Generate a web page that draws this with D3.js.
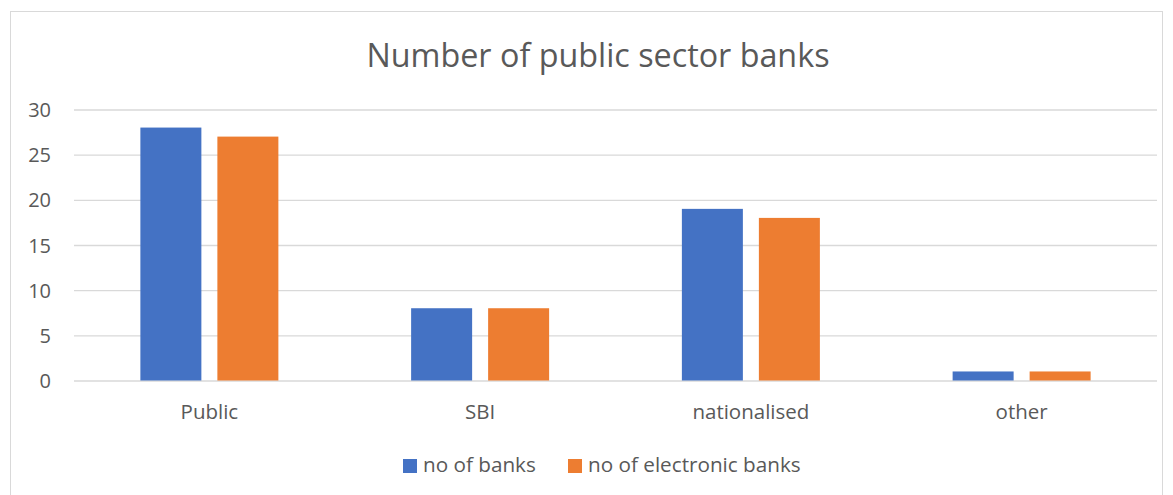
<!DOCTYPE html>
<html><head><meta charset="utf-8">
<script src="https://cdn.jsdelivr.net/npm/d3@7/dist/d3.min.js"></script>
<style>body{margin:0;background:#fff;}svg{display:block;font-family:"Open Sans","Noto Sans",sans-serif;}</style>
</head><body>
<svg id="c" width="1173" height="495"></svg>
<script>
const categories = ["Public", "SBI", "nationalised", "other"];
const seriesNames = ["no of banks", "no of electronic banks"];
const noOfBanks = [28, 8, 19, 1];
const noOfElectronicBanks = [27, 8, 18, 1];
const yTicks = [0, 5, 10, 15, 20, 25, 30];
const colors = ["#4472C4", "#ED7D31"];
const title = "Number of public sector banks";

const svg = d3.select("#c");
const textColor = "#595959";

svg.append("rect").attr("x", 10.5).attr("y", 11.5).attr("width", 1152).attr("height", 500)
  .attr("fill", "#fff").attr("stroke", "#d9d9d9").attr("stroke-width", 1);

svg.append("text").attr("x", 598).attr("y", 67).attr("text-anchor", "middle")
  .attr("font-size", 32.3).attr("fill", textColor).text(title);

const x0 = d3.scaleBand().domain(categories).range([74, 1157]).paddingInner(0).paddingOuter(0);
const groupW = 61 * 2 + 16;
const x1 = d3.scaleBand().domain(seriesNames)
  .range([(x0.bandwidth() - groupW) / 2, (x0.bandwidth() + groupW) / 2])
  .paddingInner(16 / 77).paddingOuter(0);
const y = d3.scaleLinear().domain([0, 30]).range([380.5, 109.5]);

const yAxis = d3.axisLeft(y).tickValues(yTicks).tickSize(-(1157 - 74)).tickFormat(d3.format("d"));
const gy = svg.append("g").attr("transform", "translate(74,0)").call(yAxis);
gy.select(".domain").remove();
gy.selectAll(".tick line").attr("stroke", "#d9d9d9").attr("stroke-width", 1.3);
gy.selectAll(".tick text").attr("x", -23).attr("fill", textColor).attr("font-size", 20)
  .attr("font-family", "'Open Sans',sans-serif").attr("dy", "0.35em");

const xAxis = d3.axisBottom(x0).tickSize(0);
const gx = svg.append("g").attr("transform", "translate(0,380.5)").call(xAxis);
gx.select(".domain").remove();
gx.selectAll(".tick text").attr("fill", textColor).attr("font-size", 20.5)
  .attr("font-family", "'Open Sans',sans-serif").attr("dy", 0).attr("y", 38.5);

const data = categories.map((c, i) => ({cat: c, vals: [noOfBanks[i], noOfElectronicBanks[i]]}));
const groups = svg.append("g").selectAll("g").data(data).join("g")
  .attr("transform", d => `translate(${x0(d.cat)},0)`);
groups.selectAll("rect").data(d => d.vals.map((v, j) => ({name: seriesNames[j], v, j}))).join("rect")
  .attr("x", d => x1(d.name)).attr("width", x1.bandwidth())
  .attr("y", d => y(d.v)).attr("height", d => y(0) - y(d.v))
  .attr("fill", d => colors[d.j]);

// legend
const legendItems = [{x: 403, name: seriesNames[0], c: colors[0]}, {x: 568, name: seriesNames[1], c: colors[1]}];
const lg = svg.append("g");
legendItems.forEach(it => {
  lg.append("rect").attr("x", it.x).attr("y", 459).attr("width", 14).attr("height", 14).attr("fill", it.c);
  lg.append("text").attr("x", it.x + 20).attr("y", 472).attr("font-size", 20.7).attr("fill", textColor).text(it.name);
});
</script>
</body></html>
